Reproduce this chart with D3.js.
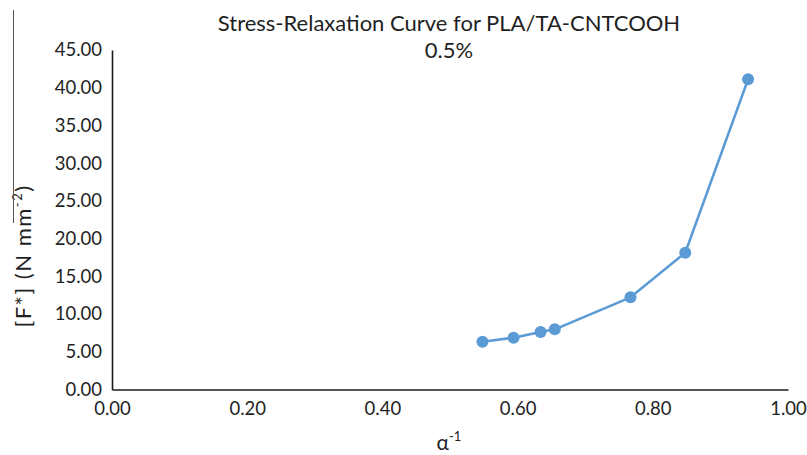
<!DOCTYPE html>
<html>
<head>
<meta charset="utf-8">
<script src="https://cdn.jsdelivr.net/npm/d3@7/dist/d3.min.js"></script>
<style>
  html, body { margin: 0; padding: 0; background: #fff; }
  svg { display: block; font-family: Lato, "Open Sans", sans-serif; }
</style>
</head>
<body>
<svg id="chart" width="807" height="455"></svg>
<script>
// Stress-relaxation data: inverse extension ratio vs reduced stress
const alphaInv = [0.548, 0.594, 0.634, 0.655, 0.767, 0.848, 0.941];
const reducedStress = [6.34, 6.87, 7.62, 7.98, 12.22, 18.13, 41.12];
const xTicks = [0, 0.2, 0.4, 0.6, 0.8, 1.0];
const yTicks = [0, 5, 10, 15, 20, 25, 30, 35, 40, 45];

const W = 807, H = 455;
const margin = { top: 50, right: 19, bottom: 65, left: 112 };

const svg = d3.select("#chart");

const x = d3.scaleLinear().domain([0, 1]).range([margin.left, W - margin.right]);
const y = d3.scaleLinear().domain([0, 45]).range([H - margin.bottom - 0.5, margin.top]);

const fmt = d3.format(".2f");
const textColor = "#1f1f1f";

// Y axis
const gy = svg.append("g")
  .attr("transform", `translate(${margin.left},0)`)
  .call(d3.axisLeft(y).tickValues(yTicks).tickSize(0).tickPadding(10).tickFormat(fmt));
gy.select(".domain").attr("stroke", "#1a1a1a").attr("stroke-width", 1.6);
gy.selectAll("text").attr("font-size", 18.5).attr("fill", textColor)
  .attr("font-family", "Lato, sans-serif");

// X axis
const gx = svg.append("g")
  .attr("transform", `translate(0,${y(0)})`)
  .call(d3.axisBottom(x).tickValues(xTicks).tickSize(0).tickPadding(12).tickFormat(fmt));
gx.select(".domain").attr("stroke", "#1a1a1a").attr("stroke-width", 1.6);
gx.selectAll("text").attr("font-size", 18.5).attr("fill", textColor)
  .attr("font-family", "Lato, sans-serif");

// Series line and markers
const pts = alphaInv.map((a, i) => [a, reducedStress[i]]);
const line = d3.line().x(d => x(d[0])).y(d => y(d[1]));

svg.append("path")
  .datum(pts)
  .attr("d", line)
  .attr("fill", "none")
  .attr("stroke", "#5b9bd5")
  .attr("stroke-width", 2.5)
  .attr("stroke-linejoin", "round");

svg.append("g").selectAll("circle")
  .data(pts)
  .join("circle")
  .attr("cx", d => x(d[0]))
  .attr("cy", d => y(d[1]))
  .attr("r", 6)
  .attr("fill", "#5b9bd5");

// Title
const title = svg.append("text")
  .attr("text-anchor", "middle")
  .attr("fill", textColor)
  .attr("font-size", 22);
title.append("tspan").attr("x", 449).attr("y", 31).text("Stress-Relaxation Curve for PLA/TA-CNTCOOH");
title.append("tspan").attr("x", 449).attr("y", 58).text("0.5%");

// Y axis title
const yTitle = svg.append("text")
  .attr("transform", "translate(31,256) rotate(-90)")
  .attr("text-anchor", "middle")
  .attr("fill", textColor)
  .attr("font-size", 22)
  .attr("letter-spacing", 1.5);
yTitle.append("tspan").text("[F*] (N mm");
yTitle.append("tspan").attr("font-size", 13).attr("dy", -9).text("-2");
yTitle.append("tspan").attr("dy", 9).text(")");

// thin rule above the y-axis title
svg.append("line")
  .attr("x1", 13.5).attr("x2", 13.5)
  .attr("y1", 10).attr("y2", 223)
  .attr("stroke", "#555").attr("stroke-width", 1);

// X axis title
const xTitle = svg.append("text")
  .attr("x", 449).attr("y", 450)
  .attr("text-anchor", "middle")
  .attr("fill", textColor)
  .attr("font-size", 21);
xTitle.append("tspan").text("α");
xTitle.append("tspan").attr("font-size", 13).attr("dy", -9).text("-1");
</script>
</body>
</html>
